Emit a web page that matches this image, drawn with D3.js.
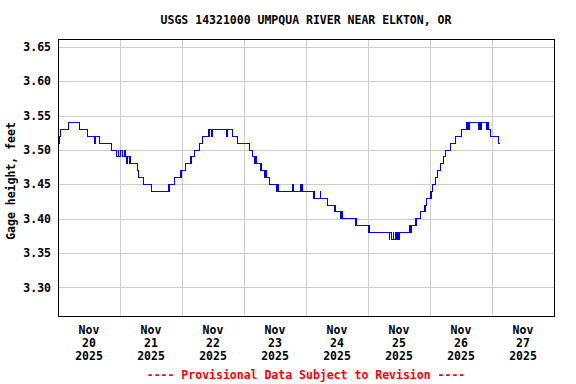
<!DOCTYPE html>
<html>
<head>
<meta charset="utf-8">
<script src="https://cdn.jsdelivr.net/npm/d3@7"></script>
<style>
  body { margin: 0; background: #fff; }
  text { font-family: "DejaVu Sans Mono", monospace; font-weight: bold; font-size: 11.5px; }
</style>
</head>
<body>
<div id="chart"></div>
<script>
// gage readings, stored as the points where the value changes
// hours counted from Nov 20 2025 00:00
const hours = [
	0, 0.5, 0.75, 1, 4, 8.25, 11.5, 14.25, 14.5, 16, 20.75, 22.75, 23.25, 23.5, 24.25, 25, 25.75, 26, 26.5, 26.75,
	27.5, 27.75, 28.25, 30.75, 31.25, 33, 36, 42.75, 43, 43.25, 45, 47.25, 47.5, 47.75, 49.5, 51.25, 51.5, 51.75, 53, 54.75,
	56, 58.25, 58.5, 58.75, 59.25, 59.75, 65.25, 65.5, 67.5, 69.5, 74.25, 75.25, 76.25, 76.5, 76.75, 78.25, 78.5, 78.75, 80, 80.5,
	80.75, 81.75, 84.75, 85, 85.25, 90.75, 91, 93.75, 94, 94.25, 94.5, 98.75, 99, 99.25, 101.5, 101.75, 104.5, 107, 107.25, 107.5,
	109.5, 109.75, 110, 115, 115.25, 115.5, 120, 120.5, 120.75, 128.25, 128.5, 129, 129.75, 130, 130.5, 131, 131.25, 131.75, 132.25, 136.25,
	136.5, 136.75, 138.25, 138.5, 138.75, 140.25, 141.75, 142, 142.25, 142.75, 144, 144.25, 144.5, 145, 146, 147, 148.25, 149.25, 150, 151.75,
	153.75, 156, 158, 158.25, 158.5, 158.75, 159.25, 162.75, 163, 163.5, 164, 166, 166.25, 166.5, 167.5, 170.5, 171.25
];
const gage = [
	3.52, 3.51, 3.52, 3.53, 3.54, 3.53, 3.52, 3.51, 3.52, 3.51, 3.50, 3.49, 3.50, 3.49, 3.50, 3.49, 3.50, 3.49, 3.48, 3.49,
	3.48, 3.49, 3.48, 3.47, 3.46, 3.45, 3.44, 3.45, 3.44, 3.45, 3.46, 3.47, 3.46, 3.47, 3.48, 3.49, 3.48, 3.49, 3.50, 3.51,
	3.52, 3.53, 3.52, 3.53, 3.52, 3.53, 3.52, 3.53, 3.52, 3.51, 3.50, 3.49, 3.48, 3.49, 3.48, 3.47, 3.48, 3.47, 3.46, 3.47,
	3.46, 3.45, 3.44, 3.45, 3.44, 3.45, 3.44, 3.45, 3.44, 3.45, 3.44, 3.43, 3.44, 3.43, 3.44, 3.43, 3.42, 3.41, 3.42, 3.41,
	3.40, 3.41, 3.40, 3.39, 3.40, 3.39, 3.38, 3.39, 3.38, 3.37, 3.38, 3.37, 3.38, 3.37, 3.38, 3.37, 3.38, 3.37, 3.38, 3.39,
	3.38, 3.39, 3.40, 3.39, 3.40, 3.41, 3.42, 3.41, 3.42, 3.43, 3.44, 3.43, 3.44, 3.45, 3.46, 3.47, 3.48, 3.49, 3.50, 3.51,
	3.52, 3.53, 3.54, 3.53, 3.54, 3.53, 3.54, 3.53, 3.54, 3.53, 3.54, 3.53, 3.54, 3.53, 3.52, 3.51, 3.51
];
const yTicks = [3.30, 3.35, 3.40, 3.45, 3.50, 3.55, 3.60, 3.65];
const labelDays = ["2025-11-20", "2025-11-21", "2025-11-22", "2025-11-23", "2025-11-24", "2025-11-25", "2025-11-26", "2025-11-27"];

const title = "USGS 14321000 UMPQUA RIVER NEAR ELKTON, OR";
const yTitle = "Gage height, feet";
const footer = "---- Provisional Data Subject to Revision ----";

const W = 576, H = 384;
const margin = { top: 39, right: 22, bottom: 68, left: 58 };

const parseDay = d3.utcParse("%Y-%m-%d");
const start = parseDay("2025-11-20");
const end = parseDay("2025-11-28");

const svg = d3.select("#chart").append("svg")
	.attr("width", W)
	.attr("height", H);

const x = d3.scaleUtc()
	.domain([start, end])
	.range([margin.left, W - margin.right]);

const y = d3.scaleLinear()
	.domain([3.2585, 3.6616])
	.range([H - margin.bottom, margin.top]);

// gridlines: horizontal at ticks, vertical at each midnight
svg.append("g")
	.selectAll("line")
	.data(yTicks)
	.join("line")
	.attr("x1", margin.left)
	.attr("x2", W - margin.right)
	.attr("y1", d => Math.round(y(d)) + 0.5)
	.attr("y2", d => Math.round(y(d)) + 0.5)
	.attr("stroke", "#cccccc")
	.attr("shape-rendering", "crispEdges");

svg.append("g")
	.selectAll("line")
	.data(d3.utcDay.range(d3.utcDay.offset(start, 1), end))
	.join("line")
	.attr("x1", d => Math.round(x(d)) + 0.5)
	.attr("x2", d => Math.round(x(d)) + 0.5)
	.attr("y1", margin.top)
	.attr("y2", H - margin.bottom)
	.attr("stroke", "#cccccc")
	.attr("shape-rendering", "crispEdges");

// the data line
const pts = hours.map((h, i) => ({ t: d3.utcMinute.offset(start, Math.round(h * 60)), v: gage[i] }));

svg.append("path")
	.datum(pts)
	.attr("fill", "none")
	.attr("stroke", "#0000ff")
	.attr("stroke-width", 1)
	.attr("shape-rendering", "crispEdges")
	.attr("d", d3.line()
		.curve(d3.curveStepAfter)
		.x(d => x(d.t))
		.y(d => y(d.v)));

// frame
svg.append("rect")
	.attr("x", margin.left + 0.5)
	.attr("y", margin.top + 0.5)
	.attr("width", W - margin.left - margin.right)
	.attr("height", H - margin.top - margin.bottom)
	.attr("fill", "none")
	.attr("stroke", "#000")
	.attr("shape-rendering", "crispEdges");

// y tick labels
svg.append("g")
	.selectAll("text")
	.data(yTicks)
	.join("text")
	.attr("x", 51)
	.attr("y", d => y(d))
	.attr("dy", "0.35em")
	.attr("text-anchor", "end")
	.text(d => d3.format(".2f")(d));

// x labels, centered under each day
const fmtMon = d3.utcFormat("%b"), fmtDay = d3.utcFormat("%d"), fmtYear = d3.utcFormat("%Y");
const xl = svg.append("g")
	.selectAll("text")
	.data(labelDays.map(parseDay))
	.join("text")
	.attr("text-anchor", "middle")
	.attr("transform", d => `translate(${x(d3.utcHour.offset(d, 12))},0)`);
xl.append("tspan").attr("x", 0).attr("y", 334).text(d => fmtMon(d));
xl.append("tspan").attr("x", 0).attr("y", 347).text(d => fmtDay(d));
xl.append("tspan").attr("x", 0).attr("y", 360).text(d => fmtYear(d));

// titles
svg.append("text")
	.attr("x", (margin.left + W - margin.right) / 2)
	.attr("y", 24)
	.attr("text-anchor", "middle")
	.text(title);

svg.append("text")
	.attr("transform", "translate(15,181) rotate(-90)")
	.attr("text-anchor", "middle")
	.text(yTitle);

svg.append("text")
	.attr("x", (margin.left + W - margin.right) / 2)
	.attr("y", 379)
	.attr("text-anchor", "middle")
	.attr("fill", "#ff0000")
	.text(footer);
</script>
</body>
</html>
